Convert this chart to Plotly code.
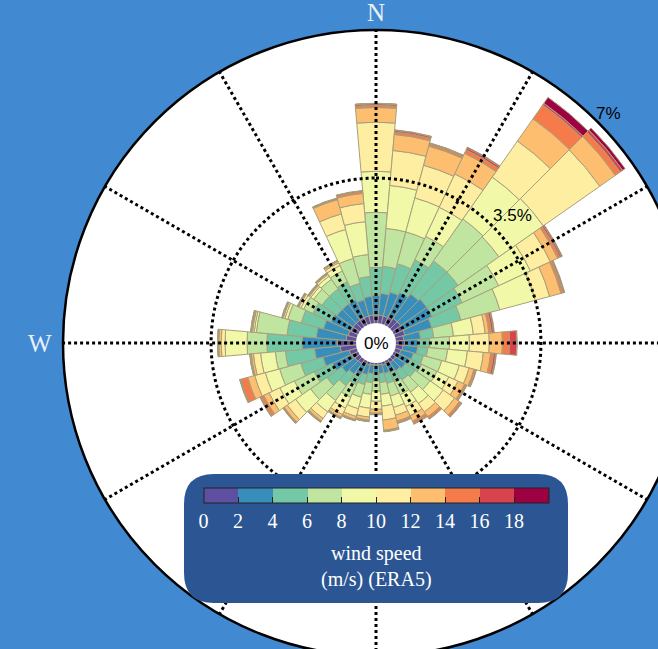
import math
import plotly.graph_objects as go

# Direction sectors (degrees, clockwise from north)
directions = list(range(0, 360, 10))

# Wind speed classes (m/s)
speed_edges = [0, 2, 4, 6, 8, 10, 12, 14, 16, 18, 20]
speed_mids = [1, 3, 5, 7, 9, 11, 13, 15, 17, 19]
speed_colors = ["#5e4fa2", "#388eba", "#75c8a5", "#bfe5a0", "#f1f9a9",
                "#feeea2", "#fdbf6f", "#f57b4a", "#d8434e", "#9e0142"]

# Frequency (% of time) per direction sector, one list per speed class
freq_0_2 = [0.26, 0.26, 0.26, 0.28, 0.31, 0.31, 0.31, 0.31, 0.26, 0.28,
            0.24, 0.21, 0.17, 0.17, 0.17, 0.14, 0.14, 0.12, 0.12, 0.12,
            0.14, 0.17, 0.19, 0.21, 0.24, 0.26, 0.45, 0.52, 0.31, 0.28,
            0.26, 0.26, 0.26, 0.26, 0.26, 0.26]
freq_2_4 = [0.47, 0.52, 0.59, 0.64, 0.71, 0.76, 0.76, 0.66, 0.40, 0.31,
            0.35, 0.31, 0.31, 0.28, 0.24, 0.24, 0.21, 0.21, 0.19, 0.21,
            0.24, 0.26, 0.31, 0.38, 0.50, 0.64, 0.61, 0.83, 0.71, 0.61,
            0.52, 0.47, 0.47, 0.47, 0.40, 0.45]
freq_4_6 = [0.66, 0.64, 0.69, 0.85, 0.95, 0.90, 0.78, 0.71, 0.31, 0.28,
            0.24, 0.24, 0.31, 0.28, 0.26, 0.24, 0.24, 0.21, 0.19, 0.21,
            0.24, 0.26, 0.33, 0.43, 0.47, 0.54, 0.69, 0.83, 0.69, 0.54,
            0.47, 0.43, 0.43, 0.47, 0.40, 0.47]
freq_6_8 = [1.30, 0.90, 0.78, 0.61, 1.21, 1.18, 0.95, 0.95, 0.47, 0.47,
            0.47, 0.45, 0.40, 0.43, 0.35, 0.33, 0.31, 0.28, 0.24, 0.28,
            0.31, 0.33, 0.43, 0.47, 0.52, 0.52, 0.24, 0.47, 0.73, 0.33,
            0.24, 0.24, 0.28, 0.28, 0.61, 0.52]
freq_8_10 = [0.97, 1.02, 0.83, 0.76, 1.21, 1.28, 0.83, 0.87, 0.47, 0.47,
             0.47, 0.43, 0.31, 0.38, 0.33, 0.31, 0.28, 0.28, 0.24, 0.33,
             0.28, 0.28, 0.33, 0.43, 0.38, 0.35, 0.35, 0.52, 0.05, 0.07,
             0.07, 0.08, 0.09, 0.14, 0.71, 0.78]
freq_10_12 = [1.16, 0.83, 0.80, 0.87, 1.04, 1.63, 0.52, 0.35, 0.28, 0.47,
              0.38, 0.24, 0.24, 0.33, 0.24, 0.24, 0.19, 0.33, 0.19, 0.21,
              0.19, 0.17, 0.19, 0.24, 0.28, 0.26, 0.17, 0.09, 0.04, 0.04,
              0.05, 0.04, 0.05, 0.07, 0.38, 0.43]
freq_12_14 = [0.35, 0.38, 0.47, 0.54, 0.64, 0.45, 0.19, 0.28, 0.09, 0.31,
              0.17, 0.12, 0.17, 0.14, 0.14, 0.14, 0.14, 0.24, 0.09, 0.07,
              0.07, 0.07, 0.07, 0.09, 0.14, 0.17, 0.05, 0.06, 0.02, 0.01,
              0.02, 0.02, 0.02, 0.04, 0.35, 0.24]
freq_14_16 = [0.05, 0.06, 0.05, 0.09, 0.40, 0.14, 0.06, 0.05, 0.06, 0.17,
              0.07, 0.04, 0.04, 0.05, 0.05, 0.06, 0.04, 0.02, 0.02, 0.02,
              0.02, 0.02, 0.02, 0.02, 0.07, 0.17, 0.02, 0.01, 0.01, 0.01,
              0.01, 0.01, 0.01, 0.01, 0.02, 0.05]
freq_16_18 = [0.04, 0.04, 0.02, 0.05, 0.05, 0.07, 0.04, 0.02, 0.05, 0.17,
              0.05, 0.01, 0.01, 0.01, 0.01, 0.01, 0.01, 0.01, 0.01, 0.01,
              0.01, 0.01, 0.01, 0.01, 0.02, 0.02, 0.01, 0.01, 0.01, 0.01,
              0.01, 0.01, 0.01, 0.01, 0.01, 0.01]
freq_18_20 = [0.01, 0.01, 0.01, 0.02, 0.17, 0.07, 0.02, 0.02, 0.02, 0.01,
              0.02, 0.01, 0.01, 0.01, 0.01, 0.01, 0.01, 0.01, 0.01, 0.01,
              0.01, 0.01, 0.01, 0.01, 0.01, 0.01, 0.01, 0.01, 0.01, 0.01,
              0.01, 0.01, 0.01, 0.01, 0.01, 0.01]

freq_by_class = [freq_0_2, freq_2_4, freq_4_6, freq_6_8, freq_8_10,
                 freq_10_12, freq_12_14, freq_14_16, freq_16_18, freq_18_20]

# Radial ticks (%)
radial_ticks = [0, 3.5, 7]
# Angular grid every 30 degrees; compass labels on the visible cardinal points
grid_angles = list(range(0, 360, 30))
compass_angles = [0, 270]
compass_labels = ["N", "W"]

colorbar_title = "wind speed<br>(m/s) (ERA5)"

# ---- figure geometry (pixels) ----
W, H = 752, 686
MT, MB = 30, 30
PH = H - MT - MB
CX, CY, R = W / 2, MT + PH / 2, PH / 2
HOLE = 0.054

BG = "#4189d0"
BOX = "#2c5693"
EDGE = "#a8a07c"
SERIF = "Liberation Serif, Times New Roman, serif"
SANS = "Liberation Sans, Arial, sans-serif"


def px_to_paper(px, py):
    return px / W, 1 - (py - MT) / PH


# Discrete colour scale for the speed classes
vmin, vmax = speed_edges[0], speed_edges[-1]
colorscale = []
for i, c in enumerate(speed_colors):
    colorscale.append([(speed_edges[i] - vmin) / (vmax - vmin), c])
    colorscale.append([(speed_edges[i + 1] - vmin) / (vmax - vmin), c])

fig = go.Figure()

for i, vals in enumerate(freq_by_class):
    marker = dict(
        color=[speed_mids[i]] * len(directions),
        colorscale=colorscale, cmin=vmin, cmax=vmax,
        line=dict(color=EDGE, width=1),
        showscale=(i == 0),
    )
    if i == 0:
        marker["colorbar"] = dict(
            orientation="h",
            x=0.5, xanchor="center",
            y=px_to_paper(0, 488)[1], yanchor="top",
            xpad=0, ypad=0,
            len=345, lenmode="pixels",
            thickness=15,
            outlinecolor="#222222", outlinewidth=1,
            tickvals=speed_edges[:-1],
            ticks="inside", ticklen=6, tickcolor="#222222", tickwidth=1,
            tickfont=dict(family=SERIF, size=20, color="white"),
        )
    fig.add_trace(go.Barpolar(
        r=vals, theta=directions, width=10,
        name=f"{speed_edges[i]}-{speed_edges[i + 1]}",
        marker=marker, hoverinfo="skip",
    ))

# Dotted grid drawn above the bars
for a in grid_angles:
    fig.add_trace(go.Scatterpolar(
        r=[radial_ticks[0], radial_ticks[-1]], theta=[a, a], mode="lines",
        line=dict(color="black", width=3, dash="dot"),
        hoverinfo="skip", showlegend=False,
    ))
circle_theta = list(range(0, 361))
fig.add_trace(go.Scatterpolar(
    r=[radial_ticks[1]] * len(circle_theta), theta=circle_theta, mode="lines",
    line=dict(color="black", width=3, dash="dot"),
    hoverinfo="skip", showlegend=False,
))

fig.update_layout(
    width=W, height=H,
    margin=dict(l=0, r=0, t=MT, b=MB, pad=0),
    paper_bgcolor=BG,
    showlegend=False,
    polar=dict(
        domain=dict(x=[0, 1], y=[0, 1]),
        bgcolor="white",
        hole=HOLE,
        barmode="stack",
        radialaxis=dict(range=[radial_ticks[0], radial_ticks[-1]],
                        showline=False, showgrid=False,
                        showticklabels=False, ticks=""),
        angularaxis=dict(
            rotation=90, direction="clockwise",
            tickmode="array", tickvals=grid_angles,
            showgrid=False, ticks="", showticklabels=False,
            showline=True, linecolor="black", linewidth=2.5,
        ),
    ),
)


# Rounded panel behind the colour bar
def rounded_rect(x0, y0, x1, y1, rad):
    ax0, ay0 = px_to_paper(x0, y0)
    ax1, ay1 = px_to_paper(x1, y1)
    rx, ry = rad / W, rad / PH
    return (f"M {ax0 + rx},{ay0} L {ax1 - rx},{ay0} Q {ax1},{ay0} {ax1},{ay0 - ry} "
            f"L {ax1},{ay1 + ry} Q {ax1},{ay1} {ax1 - rx},{ay1} "
            f"L {ax0 + rx},{ay1} Q {ax0},{ay1} {ax0},{ay1 + ry} "
            f"L {ax0},{ay0 - ry} Q {ax0},{ay0} {ax0 + rx},{ay0} Z")


fig.add_shape(type="path", xref="paper", yref="paper",
              path=rounded_rect(184, 474, 568, 603, 30),
              fillcolor=BOX, line=dict(width=0), layer="above")

# Colour bar title
tx, ty = px_to_paper(CX, 566)
fig.add_annotation(x=tx, y=ty, xref="paper", yref="paper",
                   xanchor="center", yanchor="middle",
                   text=colorbar_title, showarrow=False,
                   font=dict(family=SERIF, size=20, color="white"))

# Compass labels just outside the rim
for ang, lab in zip(compass_angles, compass_labels):
    off = 17 if ang in (0, 180) else 23
    rad = math.radians(ang)
    lx = CX + (R + off) * math.sin(rad)
    ly = CY - (R + off) * math.cos(rad)
    ax, ay = px_to_paper(lx, ly)
    fig.add_annotation(x=ax, y=ay, xref="paper", yref="paper",
                       xanchor="center", yanchor="middle",
                       text=lab, showarrow=False,
                       font=dict(family=SERIF, size=25, color="#e8f0f9"))

# White disc in the centre carrying the 0% label
hx0, hy0 = px_to_paper(CX - 20, CY + 20)
hx1, hy1 = px_to_paper(CX + 20, CY - 20)
fig.add_shape(type="circle", xref="paper", yref="paper",
              x0=hx0, y0=hy0, x1=hx1, y1=hy1,
              fillcolor="white", line=dict(width=0), layer="above")

# Radial tick labels
label_pos = [(CX, CY), (512, 216), (608, 113)]
for v, (lx, ly) in zip(radial_ticks, label_pos):
    ax, ay = px_to_paper(lx, ly)
    fig.add_annotation(x=ax, y=ay, xref="paper", yref="paper",
                       xanchor="center", yanchor="middle",
                       text=f"{v:g}%", showarrow=False,
                       font=dict(family=SANS, size=17, color="black"))

fig.write_html("out.html")
